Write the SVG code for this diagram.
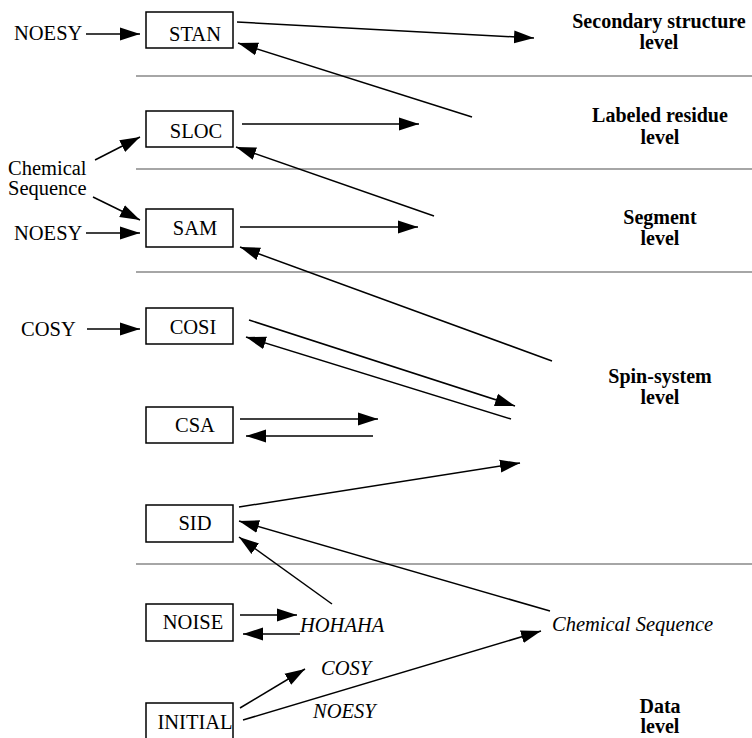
<svg xmlns="http://www.w3.org/2000/svg" width="752" height="738" viewBox="0 0 752 738">
<style>
text{font-family:"Liberation Serif","Times New Roman",serif;font-size:20.5px;fill:#000}
.b{font-weight:bold;text-anchor:middle;font-size:20px}
.i{font-style:italic}
.n{text-anchor:middle}
.box{fill:#fff;stroke:#000;stroke-width:1.5}
.sep{stroke:#888;stroke-width:1.5}
.c line{stroke:#000;stroke-width:1.5;marker-end:url(#ah)}
</style>
<defs>
<marker id="ah" markerUnits="userSpaceOnUse" markerWidth="20" markerHeight="14" refX="20" refY="6.5" orient="auto" viewBox="0 0 20 13">
<path d="M0,0 L20,6.5 L0,13 z" fill="#000"/>
</marker>
</defs>
<rect width="752" height="738" fill="#fff"/>
<g id="separators">
<line class="sep" x1="136" y1="76" x2="752" y2="76"/>
<line class="sep" x1="136" y1="169" x2="752" y2="169"/>
<line class="sep" x1="136" y1="272" x2="752" y2="272"/>
<line class="sep" x1="136" y1="564" x2="752" y2="564"/>
</g>
<g id="levels">
<text class="b" x="659" y="28">Secondary structure</text>
<text class="b" x="659" y="49">level</text>
<text class="b" x="660" y="122">Labeled residue</text>
<text class="b" x="660" y="144">level</text>
<text class="b" x="660" y="224">Segment</text>
<text class="b" x="660" y="245">level</text>
<text class="b" x="660" y="383">Spin-system</text>
<text class="b" x="660" y="404">level</text>
<text class="b" x="660" y="713">Data</text>
<text class="b" x="660" y="733">level</text>
</g>
<g id="labels">
<text x="14" y="40">NOESY</text>
<text x="8" y="175">Chemical</text>
<text x="8" y="195">Sequence</text>
<text x="14" y="240">NOESY</text>
<text x="21" y="336">COSY</text>
<text class="i" x="300" y="632">HOHAHA</text>
<text class="i" x="552" y="631">Chemical Sequence</text>
<text class="i" x="321" y="675">COSY</text>
<text class="i" x="313" y="718">NOESY</text>
</g>
<g id="STAN"><rect class="box" x="146" y="12" width="87" height="36"/><text class="n" x="195" y="41">STAN</text></g>
<g id="SLOC"><rect class="box" x="146" y="111" width="87" height="36"/><text class="n" x="196" y="138">SLOC</text></g>
<g id="SAM"><rect class="box" x="146" y="209" width="87" height="38"/><text class="n" x="195" y="235">SAM</text></g>
<g id="COSI"><rect class="box" x="146" y="308" width="87" height="36"/><text class="n" x="193" y="334">COSI</text></g>
<g id="CSA"><rect class="box" x="146" y="407" width="87" height="36"/><text class="n" x="195" y="432">CSA</text></g>
<g id="SID"><rect class="box" x="146" y="505" width="87" height="37"/><text class="n" x="195" y="530">SID</text></g>
<g id="NOISE"><rect class="box" x="146" y="604" width="87" height="37"/><text class="n" x="193" y="629">NOISE</text></g>
<g id="INITIAL"><rect class="box" x="146" y="703" width="87" height="40"/><text class="n" x="195" y="729">INITIAL</text></g>
<g id="connectors" class="c">
<line x1="86" y1="34" x2="140" y2="34"/>
<line x1="237" y1="22" x2="534" y2="38"/>
<line x1="472" y1="117" x2="238" y2="43"/>
<line x1="242" y1="124" x2="419" y2="124"/>
<line x1="434" y1="216" x2="236" y2="147"/>
<line x1="95" y1="160" x2="140" y2="137"/>
<line x1="93" y1="197" x2="140" y2="220"/>
<line x1="86" y1="233" x2="140" y2="233"/>
<line x1="240" y1="227" x2="418" y2="227"/>
<line x1="552" y1="361" x2="240" y2="247"/>
<line x1="87" y1="329" x2="140" y2="329"/>
<line x1="249" y1="320" x2="515" y2="406"/>
<line x1="511" y1="419" x2="246" y2="337"/>
<line x1="240" y1="419" x2="378" y2="419"/>
<line x1="373" y1="436" x2="246" y2="436"/>
<line x1="239" y1="507" x2="520" y2="463"/>
<line x1="550" y1="611" x2="239" y2="521"/>
<line x1="332" y1="604" x2="239" y2="537"/>
<line x1="240" y1="615" x2="297" y2="615"/>
<line x1="300" y1="634" x2="243" y2="634"/>
<line x1="240" y1="708" x2="305" y2="669"/>
<line x1="243" y1="720" x2="541" y2="631"/>
</g>
</svg>
